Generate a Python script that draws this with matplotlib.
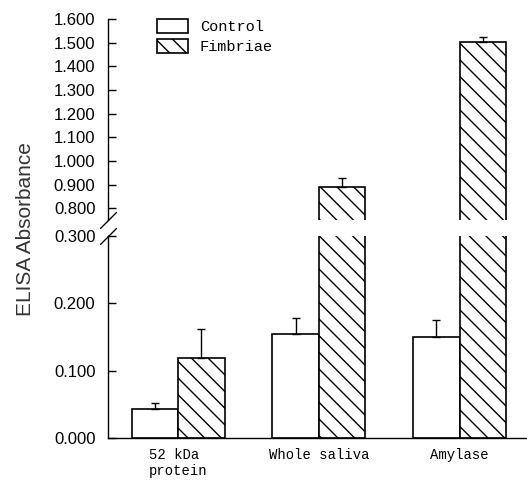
import matplotlib
matplotlib.use("Agg")
import matplotlib.pyplot as plt
import numpy as np

groups = ["52 kDa\nprotein", "Whole saliva", "Amylase"]
control = [0.043, 0.154, 0.150]
control_err = [0.009, 0.024, 0.025]
fimbriae = [0.119, 0.888, 1.503]
fimbriae_err = [0.043, 0.038, 0.021]

plt.rcParams["hatch.linewidth"] = 1.0

fig = plt.figure(figsize=(5.27, 4.83), dpi=100)
ax_top = fig.add_axes([0.2049, 0.5445, 0.7951, 0.4162])
ax_bot = fig.add_axes([0.2049, 0.0932, 0.7951, 0.4182])

x = np.arange(len(groups))
width = 0.33

for ax in (ax_top, ax_bot):
    ax.bar(x - width / 2, control, width, color="white", edgecolor="black",
           linewidth=1.2, label="Control")
    ax.bar(x + width / 2, fimbriae, width, color="white", edgecolor="black",
           linewidth=1.2, hatch="\\\\", label="Fimbriae")
    ax.errorbar(x - width / 2, control, yerr=[np.zeros(3), control_err],
                fmt="none", ecolor="black", elinewidth=1.0, capsize=3, capthick=1.0)
    ax.errorbar(x + width / 2, fimbriae, yerr=[np.zeros(3), fimbriae_err],
                fmt="none", ecolor="black", elinewidth=1.0, capsize=3, capthick=1.0)
    ax.set_xlim(-0.5, 2.48)
    for side in ("top", "right"):
        ax.spines[side].set_visible(False)
    ax.spines["left"].set_linewidth(1.0)
    ax.tick_params(axis="y", direction="in", length=6, width=1.0, pad=9,
                   labelsize=12)

ax_top.set_ylim(0.75, 1.6)
ax_top.set_yticks(np.arange(0.8, 1.61, 0.1))
ax_top.set_yticklabels([f"{v:.3f}" for v in np.arange(0.8, 1.61, 0.1)],
                       family="Liberation Sans", fontsize=12)
ax_top.spines["bottom"].set_visible(False)
ax_top.set_xticks([])

ax_bot.set_ylim(0, 0.3)
ax_bot.set_yticks([0.0, 0.1, 0.2, 0.3])
ax_bot.set_yticklabels(["0.000", "0.100", "0.200", "0.300"],
                       family="Liberation Sans", fontsize=12)
ax_bot.set_xticks(x)
ax_bot.set_xticklabels(groups, family="Liberation Mono", fontsize=10,
                       multialignment="left")
ax_bot.tick_params(axis="x", length=0, pad=7)
ax_bot.spines["bottom"].set_linewidth(1.0)

# break marks on the y axis
kw = dict(marker=[(-1, -1), (1, 1)], markersize=12, linestyle="none",
          color="k", mec="k", mew=1, clip_on=False)
ax_top.plot([0], [0], transform=ax_top.transAxes, **kw)
ax_bot.plot([0], [1], transform=ax_bot.transAxes, **kw)

fig.text(0.049, 0.525, "ELISA Absorbance", rotation=90, va="center",
         ha="center", family="Liberation Sans", fontsize=15, color="#333333")

handles, labels = ax_top.get_legend_handles_labels()
fig.legend(handles, ["Control", "Fimbriae"], loc="upper left",
           bbox_to_anchor=(157 / 527, 1 - 19 / 483), frameon=False,
           prop={"family": "Liberation Mono", "size": 11},
           handlelength=2.0, handleheight=1.0, handletextpad=0.8,
           labelspacing=0.35, borderpad=0, borderaxespad=0)

fig.savefig("out.png", dpi=100)
